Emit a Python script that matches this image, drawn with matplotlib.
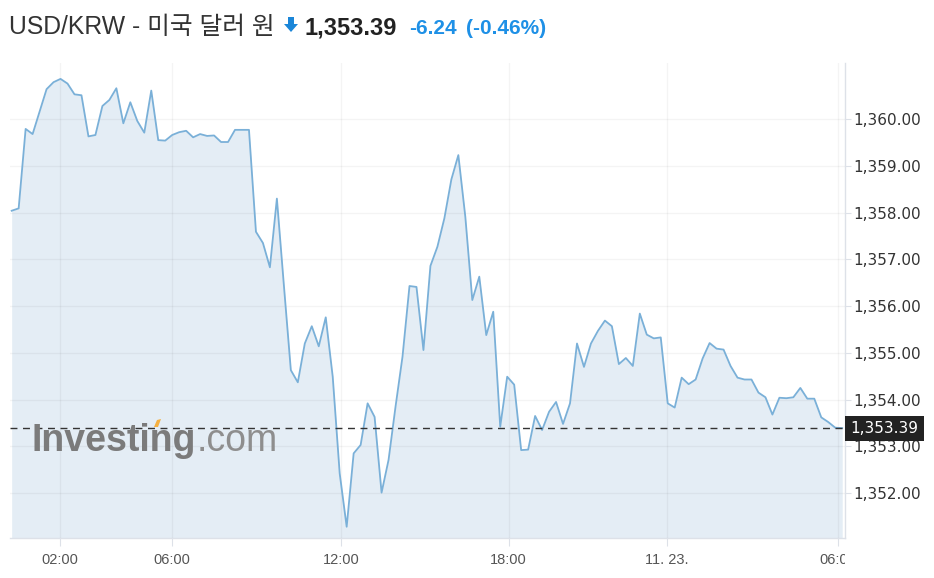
import matplotlib
matplotlib.use("Agg")
import matplotlib.pyplot as plt
import matplotlib.transforms as mtransforms
from matplotlib.patches import Polygon
from matplotlib.ticker import FuncFormatter

# ---- data (15 min steps) ----
pair_name = "USD/KRW - 미국 달러 원"
last_price = 1353.39
change_txt = "-6.24"
change_pct_txt = "(-0.46%)"

rates = [
    1358.04, 1358.09, 1359.79, 1359.68, 1360.16, 1360.64, 1360.79, 1360.86, 1360.76, 1360.53,
    1360.51, 1359.63, 1359.66, 1360.28, 1360.41, 1360.66, 1359.91, 1360.36, 1359.96, 1359.71,
    1360.61, 1359.55, 1359.54, 1359.66, 1359.72, 1359.75, 1359.61, 1359.68, 1359.64, 1359.65,
    1359.51, 1359.51, 1359.77, 1359.77, 1359.77, 1357.59, 1357.35, 1356.83, 1358.30, 1356.45,
    1354.63, 1354.37, 1355.20, 1355.57, 1355.14, 1355.76, 1354.49, 1352.42, 1351.28, 1352.85,
    1353.03, 1353.92, 1353.63, 1352.01, 1352.71, 1353.85, 1354.92, 1356.43, 1356.41, 1355.06,
    1356.86, 1357.27, 1357.88, 1358.71, 1359.23, 1357.91, 1356.13, 1356.63, 1355.38, 1355.88,
    1353.42, 1354.49, 1354.32, 1352.92, 1352.93, 1353.65, 1353.35, 1353.74, 1353.95, 1353.48,
    1353.92, 1355.20, 1354.70, 1355.20, 1355.47, 1355.69, 1355.57, 1354.76, 1354.89, 1354.72,
    1355.84, 1355.39, 1355.31, 1355.33, 1353.92, 1353.83, 1354.47, 1354.33, 1354.43, 1354.88,
    1355.21, 1355.09, 1355.07, 1354.72, 1354.47, 1354.43, 1354.43, 1354.15, 1354.05, 1353.68,
    1354.04, 1354.03, 1354.05, 1354.25, 1354.02, 1354.02, 1353.62, 1353.52, 1353.40, 1353.39,
]
idx = list(range(len(rates)))

time_ticks = [6.9, 23.0, 47.2, 71.2, 93.9, 118.4]
time_labels = ["02:00", "06:00", "12:00", "18:00", "11. 23.", "06:00"]
price_ticks = [1352, 1353, 1354, 1355, 1356, 1357, 1358, 1359, 1360]

W, H = 934, 578
def fx(px):
    return px / W
def fy(py):
    return 1 - py / H

fig = plt.figure(figsize=(W / 100, H / 100), dpi=100)
ax = fig.add_axes([fx(10), fy(538), fx(845) - fx(10), fy(63) - fy(538)])

ylo, yhi = 1351.04, 1361.2
ax.fill_between(idx, rates, ylo, color="#e4edf5", lw=0, zorder=1)
ax.plot(idx, rates, color="#7ab0d8", lw=1.3, zorder=3)
ax.axhline(last_price, color="#333333", lw=1, ls=(0, (5, 4)), zorder=4)

ax.set_xlim(-0.24, 119.4)
ax.set_ylim(ylo, yhi)

ax.set_xticks(time_ticks)
ax.set_xticklabels(time_labels)
ax.set_yticks(price_ticks)
ax.yaxis.set_major_formatter(FuncFormatter(lambda v, p: "{:,.2f}".format(v)))
ax.yaxis.tick_right()

ax.grid(True, color="black", alpha=0.045, lw=1, zorder=2)
ax.set_axisbelow(False)

for s in ["top", "left"]:
    ax.spines[s].set_visible(False)
for s in ["right", "bottom"]:
    ax.spines[s].set_color("#dde1e8")
    ax.spines[s].set_linewidth(1)

ax.tick_params(axis="y", length=4, color="#dde1e8", labelsize=11, labelcolor="#333333", pad=2)
ax.tick_params(axis="x", length=6, color="#dde1e8", labelsize=10.5, labelcolor="#555555", pad=5)
for lbl in ax.get_yticklabels():
    lbl.set_family("DejaVu Sans")
for lbl in ax.get_xticklabels():
    lbl.set_family("Liberation Sans")

# last tick label is cut at the plot edge
clip = mtransforms.TransformedBbox(mtransforms.Bbox([[0, 0], [fx(845), 1]]), fig.transFigure)
last_lbl = ax.get_xticklabels()[-1]
last_lbl.set_clip_on(True)
last_lbl.set_clip_box(clip)

# current price tag
tr = mtransforms.blended_transform_factory(ax.transAxes, ax.transData)
tr = mtransforms.offset_copy(tr, fig=fig, x=5.5, y=0, units="dots")
ax.text(1.0, last_price, "{:,.2f}".format(last_price), transform=tr, ha="left", va="center",
        color="white", fontsize=11, family="DejaVu Sans", zorder=6,
        bbox=dict(boxstyle="square,pad=0.33", fc="#222222", ec="none"))

# watermark
fig.text(fx(31), fy(451), "Investing", fontsize=27, weight="bold", color="#7b7b7b",
         family="Liberation Sans", va="baseline", zorder=5)
fig.text(fx(197), fy(451), ".com", fontsize=27, color="#8e8e8e",
         family="Liberation Sans", va="baseline", zorder=5)
fig.patches.append(Polygon([[fx(154), fy(427)], [fx(157), fy(420)], [fx(161), fy(419)], [fx(158), fy(427)]],
                           closed=True, transform=fig.transFigure, fc="#f5b041", ec="none"))

# header
title_font = ["Liberation Sans", "Noto Sans CJK KR"]
fig.text(fx(9), fy(34), pair_name, fontsize=17.8, color="#333333", family=title_font, va="baseline")
fig.patches.append(Polygon([[fx(288), fy(17)], [fx(294), fy(17)], [fx(294), fy(24)], [fx(298), fy(24)],
                            [fx(291), fy(32)], [fx(284), fy(24)], [fx(288), fy(24)]],
                           closed=True, transform=fig.transFigure, fc="#1b86d8", ec="none"))
fig.text(fx(305), fy(34), "{:,.2f}".format(last_price), fontsize=17, weight="bold", color="#222222",
         family="Liberation Sans", va="baseline")
fig.text(fx(409), fy(34), change_txt, fontsize=15, weight="bold", color="#1e90e6",
         family="Liberation Sans", va="baseline")
fig.text(fx(466), fy(34), change_pct_txt, fontsize=15, weight="bold", color="#1e90e6",
         family="Liberation Sans", va="baseline")

fig.savefig("out.png", dpi=100)
